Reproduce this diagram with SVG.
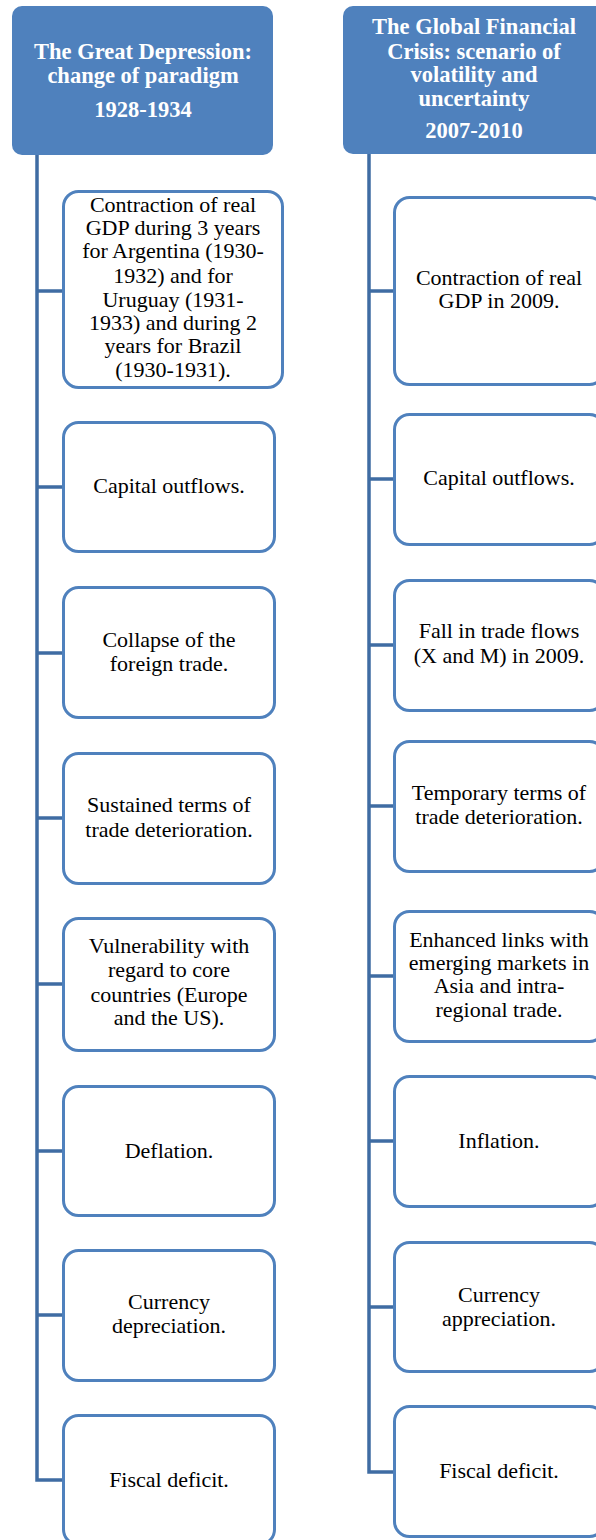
<svg xmlns="http://www.w3.org/2000/svg" width="596" height="1540" viewBox="0 0 596 1540">
<style>
.hdr{fill:#4F81BD;}
.box{fill:#FFFFFF;stroke:#4F81BD;stroke-width:3;}
.con{fill:none;stroke:#3F6CA3;stroke-width:3.5;}
.ht{font-family:"Liberation Serif","Times New Roman",serif;font-weight:bold;font-size:22.5px;fill:#FFFFFF;text-anchor:middle;}
.bt{font-family:"Liberation Serif","Times New Roman",serif;font-size:22px;fill:#000000;text-anchor:middle;}
</style>
<rect width="596" height="1540" fill="#FFFFFF"/>
<g id="connectors">
<path class="con" d="M37,155 V1480 H62"/>
<path class="con" d="M37,291 H62 M37,487 H62 M37,653 H62 M37,818 H62 M37,984 H62 M37,1151 H62 M37,1315 H62"/>
<path class="con" d="M369,154 V1472 H393"/>
<path class="con" d="M369,291 H393 M369,479 H393 M369,645 H393 M369,806 H393 M369,976 H393 M369,1141 H393 M369,1307 H393"/>
</g>
<g id="header-left">
<rect class="hdr" x="12" y="6" width="261" height="149" rx="10"/>
<text class="ht" x="143" y="59">The Great Depression:</text>
<text class="ht" x="143" y="83">change of paradigm</text>
<text class="ht" x="143" y="117">1928-1934</text>
</g>
<g id="header-right">
<rect class="hdr" x="343" y="6" width="262" height="148" rx="10"/>
<text class="ht" x="474" y="34">The Global Financial</text>
<text class="ht" x="474" y="59">Crisis: scenario of</text>
<text class="ht" x="474" y="82">volatility and</text>
<text class="ht" x="474" y="106">uncertainty</text>
<text class="ht" x="474" y="138">2007-2010</text>
</g>
<g id="left-1">
<rect class="box" x="63.5" y="191.5" width="219" height="196" rx="15"/>
<text class="bt" x="173" y="212">Contraction of real</text>
<text class="bt" x="173" y="235">GDP during 3 years</text>
<text class="bt" x="173" y="258">for Argentina (1930-</text>
<text class="bt" x="173" y="283">1932) and for</text>
<text class="bt" x="173" y="307">Uruguay (1931-</text>
<text class="bt" x="173" y="330">1933) and during 2</text>
<text class="bt" x="173" y="353">years for Brazil</text>
<text class="bt" x="173" y="377">(1930-1931).</text>
</g>
<g id="left-2">
<rect class="box" x="63.5" y="422.5" width="211" height="129" rx="15"/>
<text class="bt" x="169" y="493">Capital outflows.</text>
</g>
<g id="left-3">
<rect class="box" x="63.5" y="587.5" width="211" height="130" rx="15"/>
<text class="bt" x="169" y="647">Collapse of the</text>
<text class="bt" x="169" y="671">foreign trade.</text>
</g>
<g id="left-4">
<rect class="box" x="63.5" y="753.5" width="211" height="130" rx="15"/>
<text class="bt" x="169" y="812">Sustained terms of</text>
<text class="bt" x="169" y="837">trade deterioration.</text>
</g>
<g id="left-5">
<rect class="box" x="63.5" y="918.5" width="211" height="132" rx="15"/>
<text class="bt" x="169" y="953">Vulnerability with</text>
<text class="bt" x="169" y="977">regard to core</text>
<text class="bt" x="169" y="1002">countries (Europe</text>
<text class="bt" x="169" y="1025">and the US).</text>
</g>
<g id="left-6">
<rect class="box" x="63.5" y="1086.5" width="211" height="129" rx="15"/>
<text class="bt" x="169" y="1158">Deflation.</text>
</g>
<g id="left-7">
<rect class="box" x="63.5" y="1250.5" width="211" height="130" rx="15"/>
<text class="bt" x="169" y="1309">Currency</text>
<text class="bt" x="169" y="1333">depreciation.</text>
</g>
<g id="left-8">
<rect class="box" x="63.5" y="1415.5" width="211" height="129" rx="15"/>
<text class="bt" x="169" y="1487">Fiscal deficit.</text>
</g>
<g id="right-1">
<rect class="box" x="394.5" y="197.5" width="210" height="187" rx="15"/>
<text class="bt" x="499" y="285">Contraction of real</text>
<text class="bt" x="499" y="308">GDP in 2009.</text>
</g>
<g id="right-2">
<rect class="box" x="394.5" y="414.5" width="210" height="130" rx="15"/>
<text class="bt" x="499" y="485">Capital outflows.</text>
</g>
<g id="right-3">
<rect class="box" x="394.5" y="580.5" width="210" height="130" rx="15"/>
<text class="bt" x="499" y="638">Fall in trade flows</text>
<text class="bt" x="499" y="663">(X and M) in 2009.</text>
</g>
<g id="right-4">
<rect class="box" x="394.5" y="741.5" width="210" height="130" rx="15"/>
<text class="bt" x="499" y="800">Temporary terms of</text>
<text class="bt" x="499" y="824">trade deterioration.</text>
</g>
<g id="right-5">
<rect class="box" x="394.5" y="911.5" width="210" height="130" rx="15"/>
<text class="bt" x="499" y="947">Enhanced links with</text>
<text class="bt" x="499" y="970">emerging markets in</text>
<text class="bt" x="499" y="993">Asia and intra-</text>
<text class="bt" x="499" y="1017">regional trade.</text>
</g>
<g id="right-6">
<rect class="box" x="394.5" y="1076.5" width="210" height="130" rx="15"/>
<text class="bt" x="499" y="1148">Inflation.</text>
</g>
<g id="right-7">
<rect class="box" x="394.5" y="1242.5" width="210" height="129" rx="15"/>
<text class="bt" x="499" y="1302">Currency</text>
<text class="bt" x="499" y="1326">appreciation.</text>
</g>
<g id="right-8">
<rect class="box" x="394.5" y="1406.5" width="210" height="130" rx="15"/>
<text class="bt" x="499" y="1478">Fiscal deficit.</text>
</g>
</svg>
